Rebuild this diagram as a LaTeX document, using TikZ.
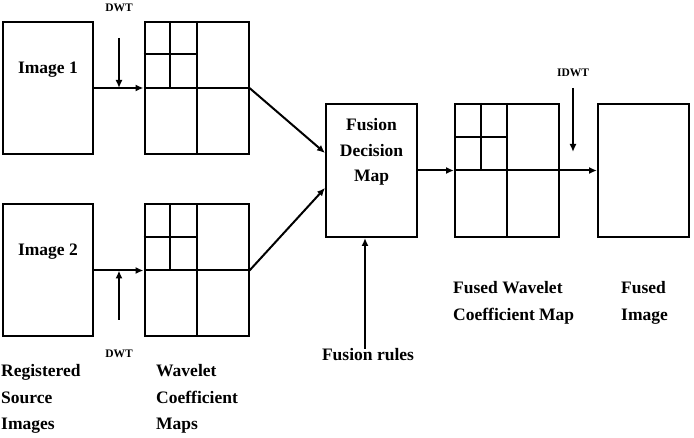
\documentclass[tikz,border=0pt]{standalone}
\usepackage{fontspec}
\setmainfont{Liberation Serif}
\usetikzlibrary{calc,arrows.meta}

\begin{document}
\begin{tikzpicture}[
        x=1pt, y=-1pt,
        imgbox/.style={
            rectangle,
            draw,
            line width=2pt,
            minimum width=90pt,
            minimum height=132pt,
            inner sep=0pt
        },
        mapbox/.style={
            rectangle,
            draw,
            line width=2pt,
            minimum width=104pt,
            minimum height=132pt,
            inner sep=0pt
        },
        boxtext/.style={
            font=\fontsize{17.5}{25.5}\selectfont\bfseries,
            align=center,
            inner sep=0pt
        },
        caption/.style={
            font=\fontsize{17.5}{26.5}\selectfont\bfseries,
            align=left,
            anchor=west,
            inner sep=0pt
        },
        smalltext/.style={
            font=\fontsize{11.5}{13}\selectfont\bfseries,
            inner sep=0pt
        },
        gridline/.style={line width=2pt},
        arrow/.style={-{Latex[length=8pt,width=7pt]}, line width=2pt}
    ]

        \useasboundingbox (0,0) rectangle (694,438);

        % Source images and their wavelet maps
        \node[imgbox] (img1) at (48,88) {};
        \node[boxtext] (img1txt) at (48,70) {Image 1};
        \node[mapbox] (wav1) at (196.5,88) {};
        \node[imgbox] (img2) at (48,270.5) {};
        \node[boxtext] (img2txt) at (48,252) {Image 2};
        \node[mapbox] (wav2) at (196.5,270.5) {};

        % Fusion stage
        \node[imgbox, minimum width=91pt, minimum height=133pt] (fdm) at (371.5,170.5) {};
        \node[boxtext] (fdmtxt) at (371.5,152) {Fusion\\Decision\\Map};
        \node[mapbox, minimum height=133pt] (fwav) at (507,170.5) {};
        \node[imgbox, minimum width=91pt, minimum height=133pt] (fimg) at (643.5,170.5) {};

        % Wavelet sub-bands
        \foreach \m in {wav1,wav2,fwav} {
            \draw[gridline] (\m.north) -- (\m.south);
            \draw[gridline] (\m.west) -- (\m.east);
            \draw[gridline] ($(\m.north west)!0.5!(\m.north)$) -- ($(\m.west)!0.5!(\m.center)$);
            \draw[gridline] ($(\m.north west)!0.5!(\m.west)$) -- ($(\m.north)!0.5!(\m.center)$);
        }

        % Labels
        \node[smalltext] (dwtlab1) at (119,8) {DWT};
        \node[smalltext] (dwtlab2) at (119,354) {DWT};
        \node[smalltext] (idwtlab) at (573,73) {IDWT};
        \node[boxtext] (rules) at (368,355) {Fusion rules};
        \node[caption] (srccap) at (1,399) {Registered\\Source\\Images};
        \node[caption] (wavcap) at (156,399) {Wavelet\\Coefficient\\Maps};
        \node[caption] (fwavcap) at (453,303) {Fused Wavelet\\Coefficient Map};
        \node[caption] (fimgcap) at (621,303) {Fused\\Image};

        \coordinate (dwt1) at (119,38);
        \coordinate (dwt2) at (119,320);
        \coordinate (idwt) at (573,88);
        \coordinate (idwtend) at (573,152);

        % Arrows
        \draw[arrow] (img1.east) -- (wav1.west);
        \draw[arrow] (img2.east) -- (wav2.west);
        \draw[arrow] (dwt1) -- (dwt1 |- img1.east);
        \draw[arrow] (dwt2) -- (dwt2 |- img2.east);
        \draw[arrow] (wav1.east) -- ($(fdm.west)+(0,-17.5)$);
        \draw[arrow] (wav2.east) -- ($(fdm.west)+(0,17.5)$);
        \draw[arrow] ([xshift=-3pt]rules.north) -- ([xshift=-3pt]rules.north |- fdm.south);
        \draw[arrow] (fdm.east) -- (fwav.west);
        \draw[arrow] (fwav.east) -- (fimg.west);
        \draw[arrow] (idwt) -- (idwtend);

    \end{tikzpicture}
\end{document}
